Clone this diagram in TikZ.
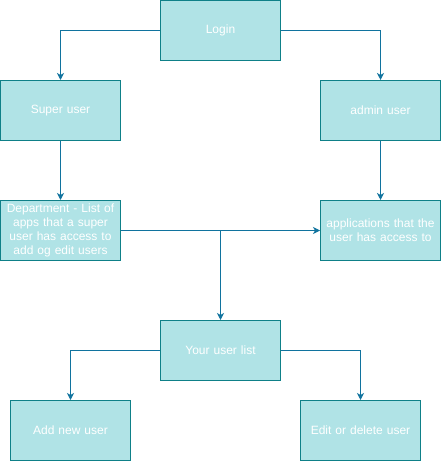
\documentclass[tikz,border=0pt]{standalone}
\usepackage{fontspec}
\setmainfont{Liberation Sans}
\usetikzlibrary{arrows.meta}
\definecolor{boxfill}{HTML}{B0E3E6}
\definecolor{boxline}{HTML}{0E8088}
\definecolor{arrowline}{HTML}{10739E}
\begin{document}
\begin{tikzpicture}[x=1pt,y=-1pt,
  box/.style={draw=boxline,fill=boxfill,line width=1pt,minimum width=120pt,minimum height=60pt,
    inner sep=0pt,text=white,font=\fontsize{12}{14}\selectfont,align=center,text width=118pt},
  conn/.style={draw=arrowline,line width=1pt,-{Stealth[length=7pt,width=7pt,inset=2pt]}},
  plain/.style={draw=arrowline,line width=1pt}]
\useasboundingbox (0,0) rectangle (441,462);
\node[box] (login) at (220.5,30.5) {Login};
\node[box] (super) at (60.5,110.5) {Super user};
\node[box] (admin) at (380.5,110.5) {admin user};
\node[box] (dept) at (60.5,230.5) {Department - List of apps that a super user has access to add og edit users};
\node[box] (apps) at (380.5,230.5) {applications that the user has access to};
\node[box] (list) at (220.5,350.5) {Your user list};
\node[box] (add) at (70.5,430.5) {Add new user};
\node[box] (edit) at (360.5,430.5) {Edit or delete user};
\draw[conn] (login.west) -| (super.north);
\draw[conn] (login.east) -| (admin.north);
\draw[conn] (super.south) -- (dept.north);
\draw[conn] (admin.south) -- (apps.north);
\draw[conn] (dept.east) -- (apps.west);
\draw[conn] (dept.east) -| (list.north);
\draw[conn] (list.west) -| (add.north);
\draw[conn] (list.east) -| (edit.north);
\end{tikzpicture}
\end{document}
